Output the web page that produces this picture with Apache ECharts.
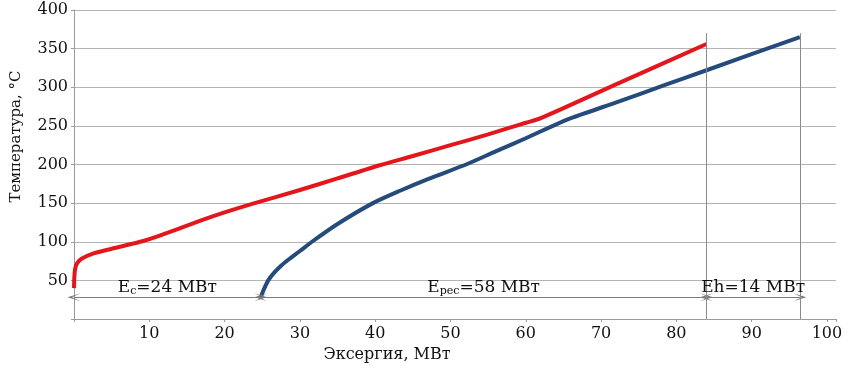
<!DOCTYPE html>
<html>
<head>
<meta charset="utf-8">
<script src="https://cdn.jsdelivr.net/npm/echarts@6/dist/echarts.min.js"></script>
<style>
  html, body { margin: 0; padding: 0; background: #fff; }
  #chart { width: 853px; height: 372px; }
</style>
</head>
<body>
<div id="chart"></div>
<script>
// red curve (hot side)
const redX = [0, 0.05, 0.15, 0.4, 1, 2.6, 5, 9.2, 11, 16.7, 20, 24, 30, 35, 40.6, 45, 50, 55, 58, 60, 62, 72.5, 84]
const redY = [40, 55, 65, 72, 78, 85, 91, 101, 106.5, 127, 138, 150, 167, 182, 199, 211, 225, 239, 248, 254, 260, 306, 356]

// blue curve (cold side)
const blueX = [24.8, 25.2, 25.8, 26.5, 27.5, 28.5, 30, 31.6, 35, 39.7, 43.3, 47, 52.3, 56, 60, 63.6, 66, 72.5, 78.5, 84, 96.4]
const blueY = [28, 38, 50, 59, 69, 77, 88, 100, 123, 150, 166, 181, 201, 217, 234, 250, 260, 282, 303, 322, 365]

// exergy split points and labels
const splitX = [0, 24.8, 84, 96.4]
const dimY = 28
const dimLabels = [
  ['E', 'c', '=24 МВт'],
  ['E', 'рес', '=58 МВт'],
  ['Eh', '', '=14 МВт'],
]
const vLines = [84, 96.4]
const vTop = 370

const font = 'DejaVu Serif'
const chevron = 'path://M5,0 L10,10 L5,3.5 L0,10 Z'

const chart = echarts.init(document.getElementById('chart'))

const dimData = dimLabels.map((t, i) => [
  {
    coord: [splitX[i], dimY],
    label: {
      formatter: '{a|' + t[0] + '}' + (t[1] ? '{b|' + t[1] + '}' : '') + '{a|' + t[2] + '}',
    },
  },
  { coord: [splitX[i + 1], dimY] },
])

const vData = vLines.map((x) => [
  { coord: [x, vTop], symbol: 'none' },
  { coord: [x, 0], symbol: 'none' },
])

chart.setOption({
  animation: false,
  grid: { left: 74, right: 17, top: 10, bottom: 53 },
  xAxis: {
    type: 'value',
    min: 0,
    max: 101.2,
    interval: 10,
    name: 'Эксергия, МВт',
    nameLocation: 'middle',
    nameGap: 27,
    nameTextStyle: { fontFamily: font, fontSize: 16, color: '#111', padding: [0, 136, 0, 0] },
    axisLine: { lineStyle: { color: '#9a9a9a' } },
    axisTick: { show: true, length: 3, lineStyle: { color: '#9a9a9a' } },
    axisLabel: {
      fontFamily: font,
      fontSize: 16,
      color: '#111',
      margin: 7,
      formatter: (v) => (v === 0 || v % 10 !== 0 ? '' : v),
    },
    splitLine: { show: false },
  },
  yAxis: {
    type: 'value',
    min: 0,
    max: 400,
    interval: 50,
    name: 'Температура, °C',
    nameLocation: 'middle',
    nameGap: 50,
    nameTextStyle: { fontFamily: font, fontSize: 15, color: '#111', padding: [0, 0, 0, 56] },
    axisLine: { show: true, lineStyle: { color: '#9a9a9a' } },
    axisTick: { show: true, length: 3, lineStyle: { color: '#9a9a9a' } },
    axisLabel: {
      fontFamily: font,
      fontSize: 16,
      color: '#111',
      margin: 6,
      formatter: (v) => (v === 0 ? '' : v),
    },
    splitLine: { lineStyle: { color: '#b4b4b4', width: 1 } },
  },
  series: [
    {
      type: 'line',
      data: redX.map((x, i) => [x, redY[i]]),
      showSymbol: false,
      smooth: 0.25,
      lineStyle: { color: '#e3161c', width: 4 },
      z: 3,
    },
    {
      type: 'line',
      data: blueX.map((x, i) => [x, blueY[i]]),
      showSymbol: false,
      smooth: 0.25,
      lineStyle: { color: '#254a7c', width: 4 },
      z: 3,
    },
    {
      type: 'line',
      data: [],
      markLine: {
        silent: true,
        animation: false,
        symbol: [chevron, chevron],
        symbolSize: [8, 13],
        lineStyle: { color: '#7a7a7a', width: 1, type: 'solid' },
        label: {
          show: true,
          position: 'middle',
          distance: 1,
          color: '#111',
          rich: {
            a: { fontFamily: font, fontSize: 17, color: '#111' },
            b: { fontFamily: font, fontSize: 11, color: '#111', verticalAlign: 'bottom', padding: [6, 0, 0, 0] },
          },
        },
        emphasis: { disabled: true },
        data: dimData,
      },
      z: 2,
    },
    {
      type: 'line',
      data: [],
      markLine: {
        silent: true,
        animation: false,
        symbol: 'none',
        lineStyle: { color: '#8a8a8a', width: 1, type: 'solid' },
        label: { show: false },
        emphasis: { disabled: true },
        data: vData,
      },
      z: 2,
    },
  ],
})
</script>
</body>
</html>
